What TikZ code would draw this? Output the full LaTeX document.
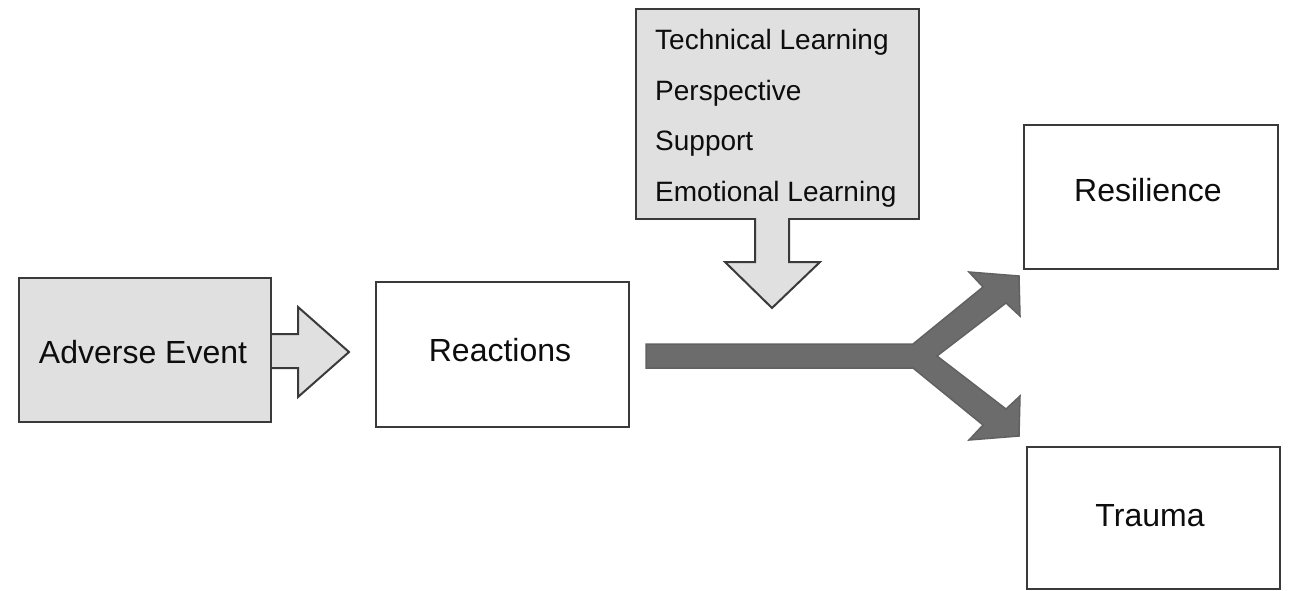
\documentclass[tikz,border=0pt]{standalone}
\usepackage{fontspec}
\setmainfont{Liberation Sans}
\definecolor{lightfill}{HTML}{E0E0E0}
\definecolor{darkfill}{HTML}{6C6C6C}
\definecolor{edge}{HTML}{3A3A3A}
\tikzset{
  box/.style={draw=edge, line width=2pt, rectangle, inner sep=0pt, anchor=north west},
  whitebox/.style={box, fill=white},
  greybox/.style={box, fill=lightfill},
  label/.style={font=\fontsize{32}{36}\selectfont, text=black!95},
  listlabel/.style={font=\fontsize{28}{32}\selectfont, text=black!95, anchor=west, inner sep=0pt},
  blockarrow/.style={draw=edge, line width=2pt, fill=lightfill, line join=miter},
  darkarrow/.style={draw=edge!80, line width=1.5pt, fill=darkfill, line join=miter}
}
\begin{document}
\begin{tikzpicture}[x=1pt,y=-1pt]
\useasboundingbox (0,0) rectangle (1289,590);
% boxes
\node[greybox, minimum width=252pt, minimum height=144pt] (adverse) at (18,277) {};
\node[whitebox, minimum width=253pt, minimum height=145pt] (reactions) at (375,281) {};
\node[greybox, minimum width=283pt, minimum height=210pt] (factors) at (635,8) {};
\node[whitebox, minimum width=254pt, minimum height=144pt] (resilience) at (1023,124) {};
\node[whitebox, minimum width=253pt, minimum height=142pt] (trauma) at (1026,446) {};
% labels
\node[label] (tadverse) at (143,352) {Adverse Event};
\node[label] (treactions) at (500,350) {Reactions};
\node[label] (tresilience) at (1148,190) {Resilience};
\node[label] (ttrauma) at (1150,516) {Trauma};
\node[listlabel] (l1) at (655,42) {Technical Learning};
\node[listlabel] (l2) at (655,93) {Perspective};
\node[listlabel] (l3) at (655,144) {Support};
\node[listlabel] (l4) at (655,194) {Emotional Learning};
% block arrow adverse -> reactions
\draw[blockarrow] (adverse.east |- 0,334) -- (298,334) -- (298,307) -- (349,352)
  -- (298,397) -- (298,368) -- (adverse.east |- 0,368);
% block arrow down from factors
\draw[blockarrow] (755,218) -- (755,262) -- (725,262) -- (772,308) -- (820,262)
  -- (789,262) -- (789,218);
% dark forked arrow
\draw[darkarrow] (646,344) -- (913,344) -- (983,287) -- (969,272) -- (1019,276)
  -- (1020,316) -- (1006,303) -- (937,356) -- (1006,409) -- (1020,396)
  -- (1019,436) -- (969,440) -- (983,425) -- (913,368) -- (646,368) -- cycle;
\end{tikzpicture}
\end{document}
